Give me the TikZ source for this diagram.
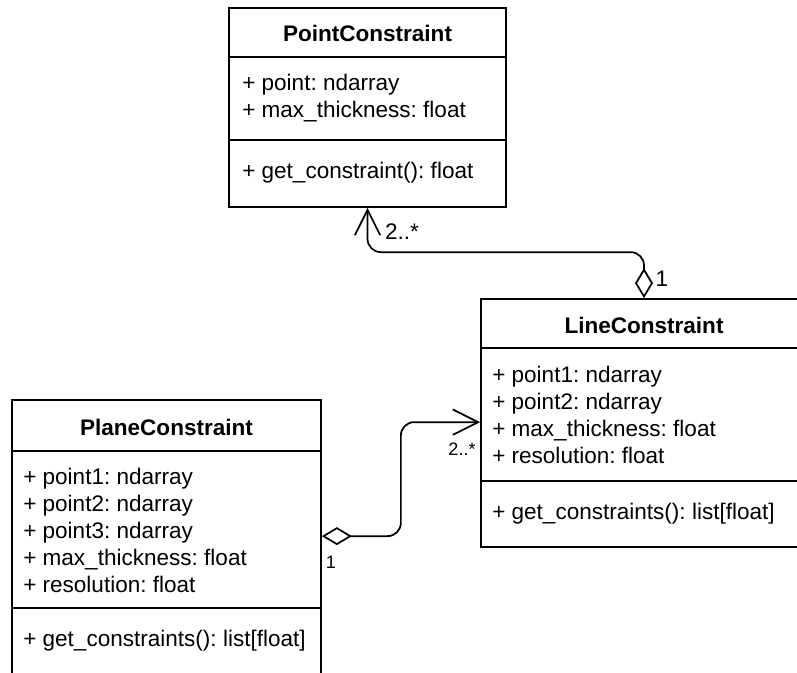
\documentclass[tikz,border=0pt]{standalone}
\usepackage{fontspec}
\setmainfont{Liberation Sans}
\usepackage{tikz}
\usetikzlibrary{
  arrows.meta,
  calc,
  fit
}
\frenchspacing

\begin{document}
\begin{tikzpicture}[
  x=0.75pt, y=-0.75pt,
  umlbox/.style={draw=black,line width=1.3pt,inner sep=0pt},
  umlline/.style={draw=black,line width=1.3pt},
  umltitle/.style={font=\fontsize{16.9}{20.25}\selectfont\bfseries,inner sep=0pt},
  umltext/.style={font=\fontsize{16.9}{20.25}\selectfont,align=left,
    anchor=west,inner sep=0pt},
  mult/.style={font=\fontsize{16.9}{20.25}\selectfont,inner sep=0pt},
  smallmult/.style={font=\fontsize{13.5}{16}\selectfont,inner sep=0pt},
  aggr/.style={draw=black,line width=1.3pt,rounded corners=10,
    {Diamond[open,length=22.5pt,width=13.5pt]}-{Straight Barb[length=19pt,width=19pt]}}
]
\useasboundingbox (0,0) rectangle (797,672);
\clip (0,0) rectangle (797,672);

% PointConstraint
\node[umlbox,fit={(229,8) (506,207)}] (point) {};
\node[umltitle] (point title) at (367.5,33) {PointConstraint};
\draw[umlline] (point.west |- 0,57) -- (point.east |- 0,57);
\node[umltext] (point attrs) at (242,98) {+ point: ndarray\\+ max\_thickness: float};
\draw[umlline] (point.west |- 0,140) -- (point.east |- 0,140);
\node[umltext] (point ops) at (242,173) {+ get\_constraint(): float};

% LineConstraint
\node[umlbox,fit={(481,299) (807,547)}] (line) {};
\node[umltitle] (line title) at (644,325) {LineConstraint};
\draw[umlline] (line.west |- 0,348) -- (line.east |- 0,348);
\node[umltext] (line attrs) at (492,415)
  {+ point1: ndarray\\+ point2: ndarray\\+ max\_thickness: float\\+ resolution: float};
\draw[umlline] (line.west |- 0,481) -- (line.east |- 0,481);
\node[umltext] (line ops) at (492,514) {+ get\_constraints(): list[float]};

% PlaneConstraint
\node[umlbox,fit={(12,400) (321,690)}] (plane) {};
\node[umltitle] (plane title) at (166.5,427) {PlaneConstraint};
\draw[umlline] (plane.west |- 0,451) -- (plane.east |- 0,451);
\node[umltext] (plane attrs) at (23,530)
  {+ point1: ndarray\\+ point2: ndarray\\+ point3: ndarray\\+ max\_thickness: float\\+ resolution: float};
\draw[umlline] (plane.west |- 0,608) -- (plane.east |- 0,608);
\node[umltext] (plane ops) at (23,641) {+ get\_constraints(): list[float]};

% aggregations
\draw[aggr] (line.north) -- ++(0,-46) -| (point.south);
\node[mult] (point many) at (402,232) {2..*};
\node[mult] (line one) at (662,279) {1};

\draw[aggr] ($(plane.north east)+(0,137)$) -- ++(79,0) |- ($(line.north west)+(0,124)$);
\node[smallmult] (plane one) at (331,562) {1};
\node[smallmult] (line many) at (462,449) {2..*};
\end{tikzpicture}
\end{document}
